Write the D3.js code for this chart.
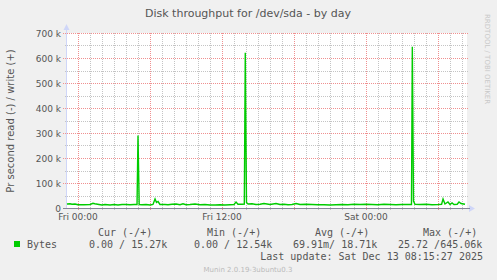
<!DOCTYPE html>
<html>
<head>
<meta charset="utf-8">
<script src="https://cdn.jsdelivr.net/npm/d3@7"></script>
<style>
  html, body { margin: 0; padding: 0; background: #f0f0f0; }
  svg { display: block; }
  text { font-family: "DejaVu Sans", sans-serif; fill: #555; }
  .mono { font-family: "DejaVu Sans Mono", monospace; white-space: pre; }
</style>
</head>
<body>
<svg id="chart" width="497" height="280"></svg>
<script>
// hours relative to Fri 00:00, and write throughput in k (read is 0)
const hours = [
  -0.92, -0.67, -0.5, -0.25, 0, 0.5, 1.0, 1.25, 1.4, 1.75, 2.0, 2.25, 2.67, 3.0,
  3.33, 3.67, 4.0, 4.33, 4.67, 4.92, 5.0, 5.1, 5.33, 5.67, 6.0, 6.25, 6.42, 6.54,
  6.67, 6.83, 7.25, 7.5, 7.83, 8.17, 8.5, 8.75, 9.0, 9.33, 9.75, 10.17, 10.58,
  11.0, 11.42, 11.83, 12.25, 12.67, 13.0, 13.17, 13.33, 13.67, 13.86, 13.94,
  14.04, 14.17, 14.5, 14.83, 15.17, 15.5, 16.0, 16.5, 16.83, 17.17, 17.5, 17.83,
  18.17, 18.5, 19.0, 19.5, 20.0, 20.5, 21.0, 21.5, 22.0, 22.5, 23.0, 23.5, 24.0,
  24.5, 25.0, 25.5, 26.0, 26.5, 27.0, 27.4, 27.79, 27.86, 27.96, 28.08, 28.5,
  29.0, 29.5, 30.0, 30.3, 30.42, 30.58, 30.83, 31.0, 31.17, 31.33, 31.6, 31.75,
  31.92, 32.25
];
const writeK = [
  16, 17, 15, 16, 13, 13, 14, 19, 17, 14, 12, 14, 12, 14,
  12, 14, 14, 13, 14, 14, 290, 14, 13, 14, 12, 14, 36, 22,
  26, 14, 14, 13, 15, 16, 13, 17, 13, 14, 16, 13, 14,
  12, 12, 13, 12, 13, 14, 24, 15, 15, 16, 621,
  22, 16, 17, 14, 15, 18, 14, 18, 14, 15, 13, 14,
  18, 14, 15, 14, 13, 13, 12, 13, 14, 13, 15, 14, 15,
  14, 13, 15, 14, 13, 14, 14, 14, 645,
  28, 15, 14, 15, 13, 14, 15, 36, 16, 24, 14, 20, 14, 15, 24,
  18, 15
];

const yTicks = [0, 100, 200, 300, 400, 500, 600, 700];
const yMinor = [50, 150, 250, 350, 450, 550, 650];

const legendHeads = ["Cur (-/+)", "Min (-/+)", "Avg (-/+)", "Max (-/+)"];
const legendVals = ["0.00 / 15.27k", "0.00 / 12.54k", "69.91m/ 18.71k", "25.72 /645.06k"];

const fri = new Date(2025, 11, 12, 0, 0);
const hourMs = 3600 * 1000;
const start = new Date(fri.getTime() - 55 * 60 * 1000);
const end = new Date(start.getTime() + 400 * 5 * 60 * 1000);

const svg = d3.select("#chart");

const x = d3.scaleTime().domain([start, end]).range([67, 467]);
const y = d3.scaleLinear().domain([0, 700]).range([208, 33]);

// canvas
svg.append("rect")
  .attr("x", 67).attr("y", 33)
  .attr("width", 400).attr("height", 175)
  .attr("fill", "#fff");

// grid
const grid = svg.append("g").attr("shape-rendering", "crispEdges");
const minorHours = d3.timeHour.every(1).range(start, end)
  .filter((d) => d.getHours() % 6 !== 0);
const majorHours = d3.timeHour.every(6).range(start, end);

grid.selectAll("line.vmin").data(minorHours).join("line")
  .attr("x1", (d) => Math.round(x(d)) + 0.5).attr("x2", (d) => Math.round(x(d)) + 0.5)
  .attr("y1", 33).attr("y2", 210)
  .attr("stroke", "#c4c4c4").attr("stroke-dasharray", "1,1");

grid.selectAll("line.hmin").data(yMinor).join("line")
  .attr("x1", 65).attr("x2", 469)
  .attr("y1", (d) => Math.round(y(d)) + 0.5).attr("y2", (d) => Math.round(y(d)) + 0.5)
  .attr("stroke", "#c4c4c4").attr("stroke-dasharray", "1,1");

grid.selectAll("line.vmaj").data(majorHours).join("line")
  .attr("x1", (d) => Math.round(x(d)) + 0.5).attr("x2", (d) => Math.round(x(d)) + 0.5)
  .attr("y1", 33).attr("y2", 211)
  .attr("stroke", "#f09090").attr("stroke-dasharray", "1,1");

grid.selectAll("line.hmaj").data(yTicks.filter((d) => d > 0)).join("line")
  .attr("x1", 63).attr("x2", 469)
  .attr("y1", (d) => Math.round(y(d)) + 0.5).attr("y2", (d) => Math.round(y(d)) + 0.5)
  .attr("stroke", "#f09090").attr("stroke-dasharray", "1,1");

// y tick labels
svg.append("g").selectAll("text").data(yTicks).join("text")
  .attr("x", 61).attr("y", (d) => y(d) + 3.5)
  .attr("text-anchor", "end")
  .attr("font-size", 9)
  .text((d) => (d === 0 ? "0" : d + " k"));

// x tick labels
const labelHours = d3.timeHour.every(12).range(start, end);
svg.append("g").selectAll("text").data(labelHours).join("text")
  .attr("x", (d) => x(d)).attr("y", 220)
  .attr("text-anchor", "middle")
  .attr("font-size", 9)
  .text(d3.timeFormat("%a %H:%M"));

// axes
svg.append("line")
  .attr("x1", 66.5).attr("x2", 66.5).attr("y1", 208).attr("y2", 29)
  .attr("stroke", "#cfd6f8");
svg.append("path")
  .attr("d", "M63.5,30 L66.5,24 L69.5,30 Z")
  .attr("fill", "#cfd6f8");
svg.append("path")
  .attr("d", "M469,205 L475,208.5 L469,212 Z")
  .attr("fill", "#cfd6f8");
svg.append("line")
  .attr("x1", 63).attr("x2", 470).attr("y1", 208.5).attr("y2", 208.5)
  .attr("stroke", "#85859a");

// series
const pts = hours.map((h, i) => ({ t: new Date(fri.getTime() + h * hourMs), v: writeK[i] }));
const line = d3.line().x((d) => x(d.t)).y((d) => y(d.v));
svg.append("path")
  .datum(pts)
  .attr("d", line)
  .attr("fill", "none")
  .attr("stroke", "#00cc00")
  .attr("stroke-width", 1.4)
  .attr("stroke-linejoin", "miter");

// title and axis label
svg.append("text")
  .attr("x", 248).attr("y", 17)
  .attr("text-anchor", "middle")
  .attr("font-size", 11)
  .text("Disk throughput for /dev/sda - by day");

svg.append("text")
  .attr("transform", "translate(14,121) rotate(-90)")
  .attr("text-anchor", "middle")
  .attr("font-size", 10)
  .text("Pr second read (-) / write (+)");

svg.append("text")
  .attr("transform", "translate(485,14) rotate(90)")
  .attr("font-size", 7)
  .style("fill", "#c8c8c8")
  .text("RRDTOOL / TOBI OETIKER");

// legend
const headX = [98, 207, 315, 423];
const valX = [89, 194, 293, 398];
svg.append("g").selectAll("text").data(legendHeads).join("text")
  .attr("class", "mono")
  .attr("x", (d, i) => headX[i]).attr("y", 236)
  .attr("font-size", 10)
  .text((d) => d);

svg.append("rect")
  .attr("x", 14).attr("y", 241).attr("width", 6).attr("height", 6)
  .attr("fill", "#00cc00");
svg.append("text")
  .attr("class", "mono")
  .attr("x", 27).attr("y", 248)
  .attr("font-size", 10)
  .text("Bytes");

svg.append("g").selectAll("text").data(legendVals).join("text")
  .attr("class", "mono")
  .attr("x", (d, i) => valX[i]).attr("y", 248)
  .attr("font-size", 10)
  .text((d) => d);

svg.append("text")
  .attr("class", "mono")
  .attr("x", 483).attr("y", 260)
  .attr("text-anchor", "end")
  .attr("font-size", 10)
  .text("Last update: Sat Dec 13 08:15:27 2025");

svg.append("text")
  .attr("x", 248).attr("y", 272)
  .attr("text-anchor", "middle")
  .attr("font-size", 7)
  .style("fill", "#bbb")
  .text("Munin 2.0.19-3ubuntu0.3");
</script>
</body>
</html>
